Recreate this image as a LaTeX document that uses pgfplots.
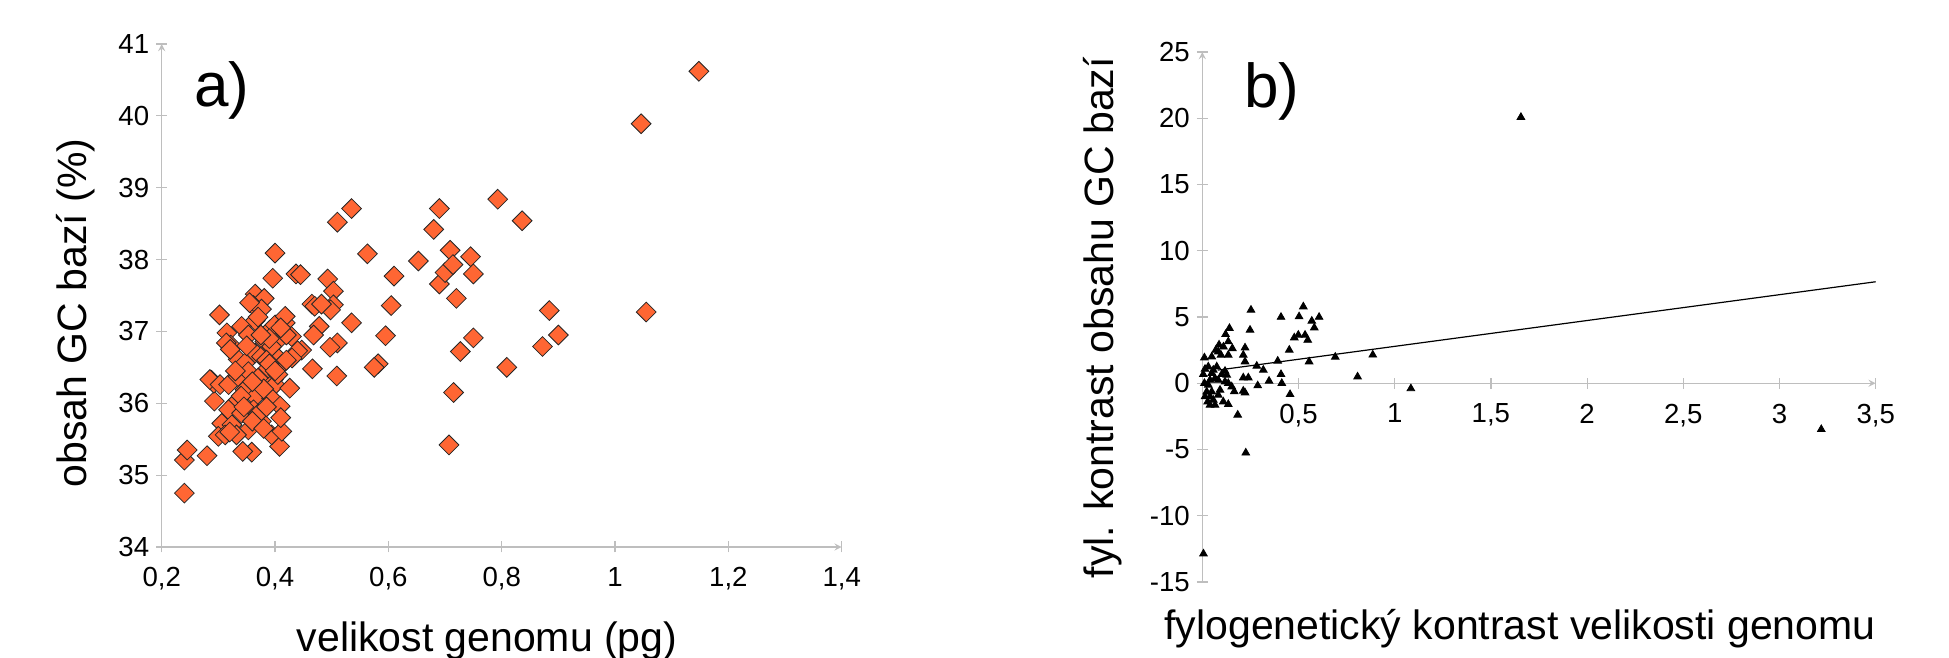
\documentclass[border=0pt]{standalone}
\usepackage{fontspec}
\setmainfont{Liberation Sans}
\usepackage{pgfplots}
\pgfplotsset{compat=1.18}

\definecolor{axgray}{RGB}{190,190,190}
\definecolor{diafill}{RGB}{255,102,51}

\pgfplotsset{
  panel/.style={
    scale only axis,
    anchor=south west,
    axis line style={draw=axgray, line width=0.6pt, -},
    tick style={draw=axgray, line width=0.6pt},
    major tick length=5.5pt,
    tick align=outside,
    ticklabel style={font=\fontsize{13.8}{16}\selectfont},
    xticklabel style={yshift=-4pt},
    /pgf/number format/use comma,
    /pgf/number format/assume math mode=true,
    clip=false,
  },
}

% panel a: genome size vs GC content
\pgfplotstableread{
x y
1.148 40.62
1.046 39.89
1.055 37.27
0.240 34.75
0.240 35.21
0.245 35.35
0.280 35.27
0.293 36.03
0.288 36.32
0.292 36.28
0.302 37.23
0.535 38.71
0.510 38.52
0.563 38.08
0.610 37.77
0.605 37.36
0.595 36.94
0.582 36.55
0.575 36.50
0.653 37.98
0.680 38.42
0.690 38.71
0.690 37.66
0.700 37.82
0.709 38.13
0.714 37.93
0.745 38.04
0.750 37.80
0.720 37.46
0.793 38.84
0.836 38.54
0.750 36.91
0.727 36.72
0.715 36.15
0.707 35.42
0.809 36.50
0.872 36.79
0.884 37.29
0.900 36.95
0.535 37.12
0.509 36.38
0.466 36.48
0.510 36.84
0.497 36.78
0.478 37.07
0.468 36.95
0.400 38.09
0.396 37.74
0.437 37.80
0.445 37.79
0.493 37.73
0.503 37.56
0.465 37.38
0.470 37.35
0.503 37.37
0.498 37.30
0.482 37.38
0.359 35.32
0.343 35.33
0.408 35.40
0.365 37.52
0.381 37.46
0.362 37.36
0.376 37.31
0.365 37.15
0.315 36.98
0.322 36.81
0.341 37.07
0.353 36.95
0.335 36.61
0.347 36.56
0.365 36.70
0.376 36.65
0.391 37.02
0.400 37.09
0.418 37.12
0.429 36.93
0.406 36.88
0.382 36.86
0.403 36.65
0.435 36.67
0.447 36.74
0.285 36.33
0.303 36.26
0.318 36.26
0.335 36.37
0.353 36.44
0.391 36.42
0.397 36.33
0.400 36.26
0.426 36.21
0.329 36.00
0.347 36.19
0.365 36.09
0.394 36.07
0.409 35.96
0.318 35.91
0.341 35.86
0.362 35.91
0.306 35.72
0.324 35.70
0.353 35.63
0.376 35.75
0.394 35.56
0.412 35.61
0.300 35.54
0.312 35.56
0.332 35.56
0.394 36.79
0.412 36.54
0.388 36.49
0.418 37.21
0.314 36.84
0.321 36.75
0.440 36.73
0.430 36.63
0.370 36.35
0.380 36.20
0.360 36.30
0.385 36.60
0.390 36.90
0.405 36.40
0.420 36.95
0.410 37.05
0.350 36.80
0.330 36.45
0.340 36.10
0.370 35.85
0.385 35.95
0.345 35.95
0.320 35.60
0.360 35.75
0.380 35.65
0.410 35.80
0.355 37.40
0.370 37.20
0.390 36.55
0.375 36.95
0.420 36.60
0.400 36.45
}\gcdata

% panel b: phylogenetic contrasts
\pgfplotstableread{
x y
1.656 20.08
3.217 -3.48
0.006 -12.87
0.807 0.49
0.886 2.14
1.084 -0.40
0.691 1.98
0.226 -5.25
0.253 5.53
0.525 5.78
0.409 4.99
0.503 5.03
0.569 4.70
0.607 4.99
0.582 4.19
0.141 4.15
0.248 4.02
0.121 3.69
0.478 3.44
0.499 3.64
0.534 3.64
0.548 3.26
0.135 3.14
0.087 2.90
0.110 2.75
0.070 2.50
0.156 2.63
0.222 2.68
0.452 2.51
0.049 2.00
0.083 2.38
0.097 2.13
0.135 2.13
0.213 2.13
0.222 1.63
0.011 1.93
0.392 1.68
0.555 1.63
0.283 1.30
0.317 1.00
0.005 0.67
0.011 0.00
0.031 -0.13
0.023 -0.64
0.040 -1.01
0.028 -1.39
0.057 -1.26
0.066 -1.64
0.083 -0.89
0.092 -0.51
0.109 -1.39
0.118 0.12
0.135 0.00
0.153 -0.26
0.127 0.62
0.066 0.37
0.049 0.75
0.031 1.25
0.075 1.25
0.057 1.00
0.014 1.07
0.118 0.92
0.101 0.67
0.040 0.24
0.083 0.24
0.014 -1.01
0.049 -0.64
0.040 -1.64
0.166 -0.63
0.213 -0.58
0.222 -0.71
0.135 -1.59
0.184 -2.39
0.213 0.42
0.239 0.42
0.347 0.17
0.409 0.67
0.413 0.00
0.288 -0.18
0.456 -0.84
}\contrdata

\begin{document}
\begin{tikzpicture}
\useasboundingbox (0,0) rectangle (974.5pt,329pt);

\begin{axis}[panel, at={(80.85pt,55.5pt)}, width=340pt, height=251.5pt,
  axis lines=left,
  xmin=0.2, xmax=1.4, ymin=34, ymax=41,
  xtick={0.2,0.4,0.6,0.8,1,1.2,1.4}, ytick={34,35,...,41}]
  \addplot[only marks, mark=square*, mark size=3.5pt,
    mark options={rotate=45, fill=diafill, draw=black!85, line width=0.4pt}]
    table[x=x, y=y] {\gcdata};
\end{axis}

\begin{axis}[panel, at={(601.15pt,38pt)}, width=336.7pt, height=265pt,
  axis x line=middle, axis y line=left,
  xmin=0, xmax=3.5, ymin=-15, ymax=25,
  xtick={0,0.5,1,1.5,2,2.5,3,3.5}, ytick={-15,-10,...,25}]
  \addplot[only marks, mark=triangle*, mark size=2.2pt, black]
    table[x=x, y=y] {\contrdata};
  \addplot[black, line width=0.6pt, no marks] coordinates {(0.08,0.99) (3.5,7.66)};
\end{axis}

\node[font=\fontsize{20.5}{24}\selectfont, anchor=base] at (243.5pt,3.2pt) {velikost genomu (pg)};
\node[font=\fontsize{20.5}{24}\selectfont, anchor=base] at (760pt,9pt) {fylogenetický kontrast velikosti genomu};
\node[font=\fontsize{20.5}{24}\selectfont, rotate=90] at (38pt,172.5pt) {obsah GC bazí (\%)};
\node[font=\fontsize{20.5}{24}\selectfont, rotate=90] at (551.4pt,170.2pt) {fyl. kontrast obsahu GC bazí};
\node[font=\fontsize{31}{36}\selectfont] at (111pt,284pt) {a)};
\node[font=\fontsize{31}{36}\selectfont] at (636pt,283.25pt) {b)};
\end{tikzpicture}
\end{document}
